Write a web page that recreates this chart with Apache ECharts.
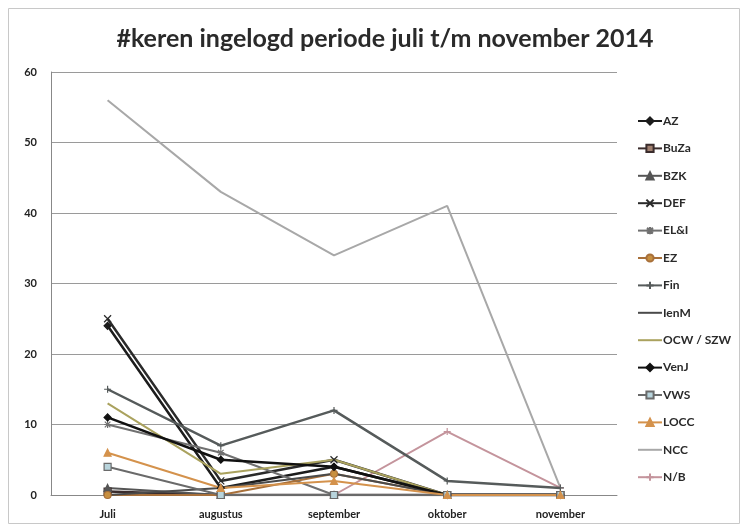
<!DOCTYPE html>
<html><head><meta charset="utf-8">
<script src="https://cdn.jsdelivr.net/npm/echarts@6/dist/echarts.min.js"></script>
<style>html,body{margin:0;padding:0;background:#fff}#c{width:747px;height:531px}</style>
</head><body><div id="c"></div>
<script>
const categories = ['Juli','augustus','september','oktober','november'];
const yTicks = [0,10,20,30,40,50,60];
const seriesNames = ['AZ','BuZa','BZK','DEF','EL&I','EZ','Fin','IenM','OCW / SZW','VenJ','VWS','LOCC','NCC','N/B'];
const AZ   = [24, 1, 4, 0, 0];
const BuZa = [0.5, 0, 0, 0, 0];
const BZK  = [1, 0, 0, 0, 0];
const DEF  = [25, 2, 5, 0, 0];
const ELI  = [10, 6, 0, 0, 0];
const EZ   = [0, 0, 3, 0, 0];
const Fin  = [15, 7, 12, 2, 1];
const IenM = [0, 1, 3, 0, 0];
const OCW  = [13, 3, 5, 0, 0];
const VenJ = [11, 5, 4, 0, 0];
const VWS  = [4, 0, 0, 0, 0];
const LOCC = [6, 1, 2, 0, 0];
const NCC  = [56, 43, 34, 41, 1];
const NB   = [0, 0, 0, 9, 1];
const values = [AZ,BuZa,BZK,DEF,ELI,EZ,Fin,IenM,OCW,VenJ,VWS,LOCC,NCC,NB];

const styles = [
  {c:'#1c1c1c', s:'diamond', f:'#1c1c1c', w:2.5},
  {c:'#3a2c2c', s:'rect', f:'#a08070', w:2.5},
  {c:'#555555', s:'triangle', f:'#555555', w:2},
  {c:'#2a2a2a', s:'path://M0,0L10,10M10,0L0,10', f:'#2a2a2a', w:2.5},
  {c:'#707070', s:'path://M5,0L5,10M0,5L10,5M1,1L9,9M9,1L1,9', f:'#707070', w:2},
  {c:'#a8703a', s:'circle', f:'#c89040', w:2},
  {c:'#565b5b', s:'path://M5,0L5,10M0,5L10,5', f:'#565b5b', w:2.5},
  {c:'#4a4a4a', s:'none', f:'#4a4a4a', w:2},
  {c:'#aaa25e', s:'none', f:'#aaa25e', w:2},
  {c:'#111111', s:'diamond', f:'#111111', w:2.5},
  {c:'#6a6a6a', s:'rect', f:'#b8d4dc', w:2},
  {c:'#d4924c', s:'triangle', f:'#d4924c', w:2},
  {c:'#a8a8a8', s:'none', f:'#a8a8a8', w:2},
  {c:'#c4949c', s:'path://M5,0L5,10M0,5L10,5', f:'#c4949c', w:2}
];

const series = seriesNames.map((n,i)=>({
  name:n, type:'line', data:values[i],
  symbol: styles[i].s, symbolSize: styles[i].s==='none'?0:7,
  showSymbol: styles[i].s!=='none',
  lineStyle:{color:styles[i].c, width:styles[i].w},
  itemStyle:{color:styles[i].f, borderColor:styles[i].c, borderWidth:1.2},
  z: (n==='NCC'||n==='N/B')?1:2,
  animation:false
}));

const legendData = seriesNames.map((n,i)=> styles[i].s==='none'
  ? {name:n, itemStyle:{opacity:0}}
  : {name:n});

const chart = echarts.init(document.getElementById('c'));
chart.setOption({
  backgroundColor:'#fff',
  animation:false,
  title:{text:'#keren ingelogd periode juli t/m november 2014', left:380, top:21, textAlign:'center',
    textStyle:{fontFamily:'Lato', fontWeight:'bold', fontSize:25, color:'#2a2a2a'}},
  graphic:[{type:'rect', shape:{x:8.5,y:8.5,width:731,height:515}, style:{fill:'none', stroke:'#c8c8c8', lineWidth:1}, silent:true}],
  grid:{left:51, right:130, top:72, bottom:36},
  legend:{orient:'vertical', left:632, top:110, itemWidth:24, itemHeight:9, itemGap:15.4,
    textStyle:{fontFamily:'Lato', fontWeight:'bold', fontSize:12, color:'#2a2a2a', padding:[0,0,0,-4]},
    data:legendData},
  xAxis:{type:'category', data:categories, boundaryGap:true,
    axisLine:{lineStyle:{color:'#888', width:1}}, axisTick:{show:false},
    axisLabel:{fontFamily:'Lato', fontWeight:'bold', fontSize:11, color:'#222', margin:14}},
  yAxis:{type:'value', min:0, max:60, interval:10,
    axisLine:{show:true, lineStyle:{color:'#888'}}, axisTick:{show:false},
    axisLabel:{fontFamily:'Lato', fontWeight:'bold', fontSize:11, color:'#222', margin:14,
      formatter:v=>yTicks.includes(v)?String(v):''},
    splitLine:{lineStyle:{color:'#9a9a9a', width:1}}},
  series:series
});
</script></body></html>
